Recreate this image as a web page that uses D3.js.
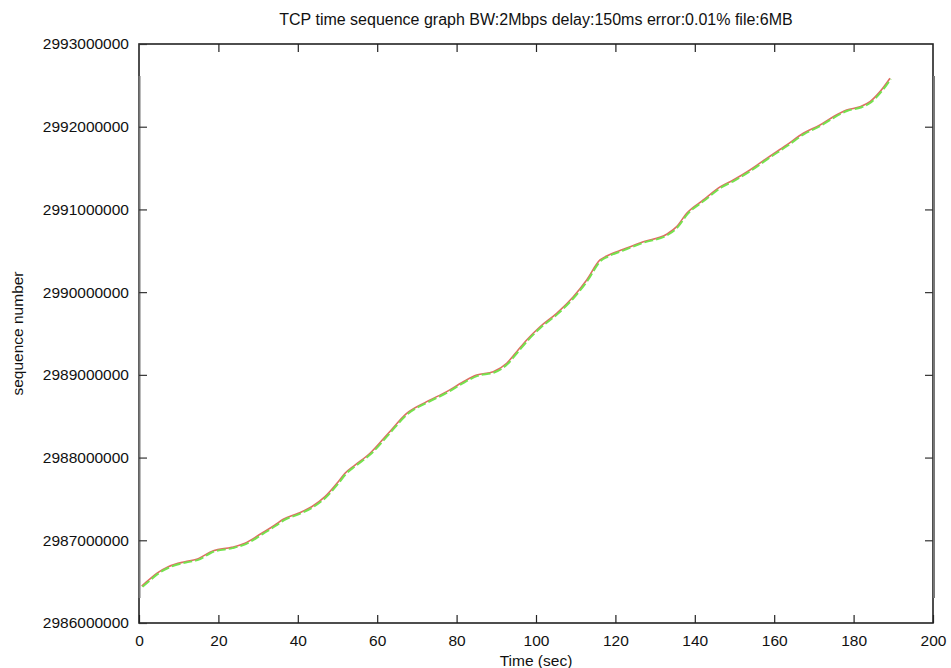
<!DOCTYPE html>
<html>
<head>
<meta charset="utf-8">
<script src="https://cdn.jsdelivr.net/npm/d3@7/dist/d3.min.js"></script>
<style>
  html, body { margin: 0; padding: 0; background: #fff; }
  svg { display: block; }
  text { font-family: "Liberation Sans", Arial, Helvetica, sans-serif; fill: #111; }
</style>
</head>
<body>
<svg id="chart" width="951" height="668"></svg>
<script>
// Time (s) of each sampled point of the sequence trace
const times = [0.68, 1.94, 4.46, 7.38, 11.59, 14.53, 18.72, 23.35, 26.70, 30.91,
  34.26, 36.35, 40.13, 43.50, 46.85, 50.20, 51.89, 54.41, 58.19, 62.80,
  67.43, 72.47, 77.51, 81.69, 85.06, 89.24, 92.62, 95.14, 97.66, 101.01,
  105.21, 109.40, 112.77, 116.12, 117.81, 122.00, 127.03, 132.92, 135.44, 137.96,
  142.14, 146.47, 149.70, 153.90, 158.11, 163.15, 167.33, 171.54, 174.89, 178.26,
  181.61, 184.13, 186.65, 189.17];

// TCP sequence numbers at those times
const seqNumbers = [2986447000, 2986499000, 2986601000, 2986681000, 2986741000, 2986770000, 2986874000, 2986915000, 2986964000, 2987085000,
  2987185000, 2987254000, 2987326000, 2987406000, 2987527000, 2987708000, 2987810000, 2987910000, 2988052000, 2988294000,
  2988535000, 2988676000, 2988797000, 2988917000, 2988998000, 2989038000, 2989140000, 2989280000, 2989422000, 2989582000,
  2989744000, 2989945000, 2990147000, 2990389000, 2990437000, 2990518000, 2990610000, 2990700000, 2990792000, 2990953000,
  2991114000, 2991275000, 2991356000, 2991477000, 2991618000, 2991779000, 2991921000, 2992021000, 2992121000, 2992202000,
  2992242000, 2992303000, 2992424000, 2992586000];

const xTicks = [0, 20, 40, 60, 80, 100, 120, 140, 160, 180, 200];
const yTicks = [2986000000, 2987000000, 2988000000, 2989000000, 2990000000, 2991000000, 2992000000, 2993000000];

const titleText = "TCP time sequence graph BW:2Mbps delay:150ms error:0.01% file:6MB";
const xLabel = "Time (sec)";
const yLabel = "sequence number";

const points = times.map((t, i) => ({ t, s: seqNumbers[i] }));

const svg = d3.select("#chart");
const plotL = 139, plotR = 933, plotT = 44, plotB = 623;

const x = d3.scaleLinear().domain([0, 200]).range([plotL, plotR]);
const y = d3.scaleLinear().domain([2986000000, 2993000000]).range([plotB, plotT]);

// Frame
svg.append("rect")
  .attr("x", plotL).attr("y", plotT)
  .attr("width", plotR - plotL).attr("height", plotB - plotT)
  .attr("fill", "none").attr("stroke", "#222").attr("stroke-width", 1.6);

// Lighter portions of the side borders
svg.append("line").attr("x1", plotL + 0.5).attr("x2", plotL + 0.5)
  .attr("y1", 76).attr("y2", 598).attr("stroke", "#777").attr("stroke-width", 2);
svg.append("line").attr("x1", plotR + 1).attr("x2", plotR + 1)
  .attr("y1", 76).attr("y2", 598).attr("stroke", "#777").attr("stroke-width", 2);

// Inward ticks on all four sides
const tickLen = 8;
const fontStack = "'Liberation Sans', Arial, sans-serif";

const xAxisBottom = d3.axisBottom(x).tickValues(xTicks).tickSizeInner(-tickLen).tickSizeOuter(0).tickPadding(tickLen + 4).tickFormat(d3.format("d"));
const gxb = svg.append("g").attr("transform", `translate(0,${plotB})`).call(xAxisBottom);
gxb.select(".domain").remove();
gxb.selectAll("line").attr("stroke", "#222").attr("stroke-width", 1.2);
gxb.selectAll("text").attr("font-size", 15.5).attr("fill", "#111").attr("font-family", fontStack);

const xAxisTop = d3.axisTop(x).tickValues(xTicks.slice(1, -1)).tickSizeInner(-tickLen).tickSizeOuter(0).tickFormat("");
const gxt = svg.append("g").attr("transform", `translate(0,${plotT})`).call(xAxisTop);
gxt.select(".domain").remove();
gxt.selectAll("line").attr("stroke", "#222").attr("stroke-width", 1.2);

const yAxisLeft = d3.axisLeft(y).tickValues(yTicks).tickSizeInner(-tickLen).tickSizeOuter(0).tickPadding(tickLen + 2).tickFormat(d3.format("d"));
const gyl = svg.append("g").attr("transform", `translate(${plotL},0)`).call(yAxisLeft);
gyl.select(".domain").remove();
gyl.selectAll("line").attr("stroke", "#333").attr("stroke-width", 1.2);
gyl.selectAll("text").attr("font-size", 15.5).attr("fill", "#111").attr("font-family", fontStack);

const yAxisRight = d3.axisRight(y).tickValues(yTicks.slice(1, -1)).tickSizeInner(-tickLen).tickSizeOuter(0).tickFormat("");
const gyr = svg.append("g").attr("transform", `translate(${plotR},0)`).call(yAxisRight);
gyr.select(".domain").remove();
gyr.selectAll("line").attr("stroke", "#333").attr("stroke-width", 1.2);

// Sequence trace: red line with green dashed line on top
const line = d3.line().x(d => x(d.t)).y(d => y(d.s)).curve(d3.curveMonotoneX);

svg.append("path").datum(points)
  .attr("d", line)
  .attr("fill", "none")
  .attr("stroke", "#e06a62")
  .attr("stroke-width", 1.6);

svg.append("path").datum(points)
  .attr("d", line)
  .attr("transform", "translate(0.8,0.8)")
  .attr("fill", "none")
  .attr("stroke", "#74e24e")
  .attr("stroke-width", 2)
  .attr("stroke-dasharray", "9,3");

// Title and axis labels
svg.append("text")
  .attr("x", (plotL + plotR) / 2).attr("y", 25)
  .attr("text-anchor", "middle").attr("font-size", 16)
  .text(titleText);

svg.append("text")
  .attr("x", (plotL + plotR) / 2).attr("y", 666)
  .attr("text-anchor", "middle").attr("font-size", 15.5)
  .text(xLabel);

svg.append("text")
  .attr("transform", `translate(23,${(plotT + plotB) / 2}) rotate(-90)`)
  .attr("text-anchor", "middle").attr("font-size", 15.5)
  .text(yLabel);
</script>
</body>
</html>
